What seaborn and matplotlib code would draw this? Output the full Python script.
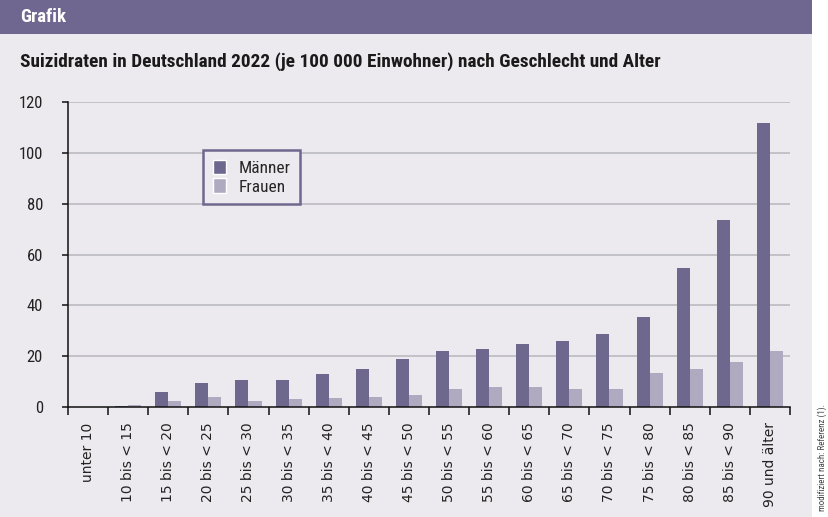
import pandas as pd
import numpy as np
import matplotlib
matplotlib.use('Agg')
import matplotlib.pyplot as plt
import seaborn as sns
from matplotlib.patches import Rectangle
from matplotlib.ticker import FixedLocator

# Daten
altersgruppen = ["unter 10", "10 bis < 15", "15 bis < 20", "20 bis < 25", "25 bis < 30",
                 "30 bis < 35", "35 bis < 40", "40 bis < 45", "45 bis < 50", "50 bis < 55",
                 "55 bis < 60", "60 bis < 65", "65 bis < 70", "70 bis < 75", "75 bis < 80",
                 "80 bis < 85", "85 bis < 90", "90 und älter"]
maenner = [0.0, 0.5, 5.9, 9.4, 10.6, 10.6, 13.0, 15.0, 18.9, 22.0,
           22.8, 24.8, 26.0, 28.7, 35.4, 54.7, 73.6, 111.8]
frauen = [0.0, 0.8, 2.4, 3.9, 2.4, 3.1, 3.5, 3.9, 4.9, 7.1,
          8.0, 8.0, 7.1, 7.1, 13.4, 15.0, 17.7, 22.0]
y_ticks = [0, 20, 40, 60, 80, 100, 120]

df = pd.DataFrame({
    "Alter": altersgruppen * 2,
    "Rate": maenner + frauen,
    "Geschlecht": ["Männer"] * len(maenner) + ["Frauen"] * len(frauen),
})

LILA = "#6E688F"
HELL = "#B0AAC1"
BG = "#ECEAEE"
GRID = "#B9B6BE"

sns.set_style("white")
SCHMAL = ['Roboto Condensed', 'DejaVu Sans']
plt.rcParams['font.family'] = SCHMAL

W, H = 829, 517
fig = plt.figure(figsize=(W / 100, H / 100), dpi=100)
fig.patch.set_facecolor("white")

# Hintergrundflaechen
fig.patches.append(Rectangle((0, 0), 812 / W, 1, transform=fig.transFigure,
                             facecolor=BG, edgecolor="none", zorder=-10))
fig.patches.append(Rectangle((0, 1 - 34 / H), 812 / W, 34 / H, transform=fig.transFigure,
                             facecolor="#6F678F", edgecolor="none", zorder=-9))
fig.text(20 / W, 1 - 17 / H, "Grafik", color="white", fontsize=13.5, fontweight="bold",
         va="center", ha="left")
fig.text(20 / W, 1 - 62 / H,
         "Suizidraten in Deutschland 2022 (je 100 000 Einwohner) nach Geschlecht und Alter",
         color="#1a1a1a", fontsize=13.9, fontweight="bold", va="center", ha="left")
fig.text(822 / W, 6 / H, "modifiziert nach: Referenz (1).", rotation=90, color="#444444",
         fontsize=6.5, ha="center", va="bottom")

ax = fig.add_axes([68 / W, 1 - 407 / H, (790 - 68) / W, (407 - 102) / H])
ax.set_zorder(5)
ax.set_facecolor(BG)

sns.barplot(data=df, x="Alter", y="Rate", hue="Geschlecht", palette=[LILA, HELL],
            width=0.65, saturation=1, linewidth=0, ax=ax, legend=False, zorder=3)

ax.set_xlim(-0.5, len(altersgruppen) - 0.5)
ax.set_ylim(0, 120)
ax.set_yticks(y_ticks)
for y in y_ticks[1:]:
    ax.axhline(y, color=GRID, lw=1.1, zorder=1)

for s in ["top", "right"]:
    ax.spines[s].set_visible(False)
for s in ["left", "bottom"]:
    ax.spines[s].set_color("#111111")
    ax.spines[s].set_linewidth(1.1)
    ax.spines[s].set_zorder(4)

ax.set_xlabel("")
ax.set_ylabel("")
ax.tick_params(axis="y", which="major", left=True, direction="out", length=4.5, width=1.1,
               color="#111111", labelsize=12, pad=13.5, labelcolor="#222222")
ax.set_xticks(range(len(altersgruppen)))
ax.set_xticklabels(altersgruppen, rotation=90, fontsize=10, family=["DejaVu Sans"],
                   color="#222222", va="top", ha="center")
ax.tick_params(axis="x", which="major", bottom=True, length=0, pad=11)
ax.xaxis.set_minor_locator(FixedLocator(np.arange(-0.5, len(altersgruppen), 1.0)))
ax.tick_params(axis="x", which="minor", bottom=True, direction="out", length=5.5, width=1.1,
               color="#111111")

# Legende
handles = [Rectangle((0, 0), 1, 1, facecolor=LILA), Rectangle((0, 0), 1, 1, facecolor=HELL)]
leg = ax.legend(handles, ["Männer", "Frauen"], loc="upper left",
                bbox_to_anchor=(203 / W, 1 - 150 / H), bbox_transform=fig.transFigure,
                frameon=True, fancybox=False, fontsize=12.5, handlelength=0.8,
                handleheight=0.9, handletextpad=0.7, labelspacing=0.15,
                borderpad=0.55, borderaxespad=0)
leg.get_frame().set_edgecolor("#6F678F")
leg.get_frame().set_linewidth(1.8)
leg.get_frame().set_facecolor(BG)
leg.get_frame().set_alpha(1)

fig.savefig("out.png", dpi=100)
